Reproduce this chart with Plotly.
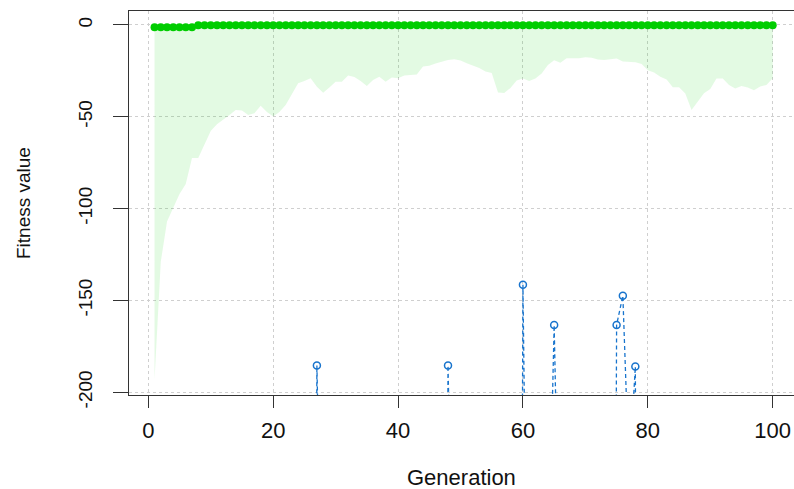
import plotly.graph_objects as go

# Generations of the genetic algorithm run
generation = list(range(1, 101))

# Best fitness per generation
best_fitness = [
    -1.2, -1.2, -1.2, -1.2, -1.2, -1.2, -1.2, -0.1, -0.1, -0.1,
    -0.1, -0.1, -0.1, -0.1, -0.1, -0.1, -0.1, -0.1, -0.1, -0.1,
    -0.1, -0.1, -0.1, -0.1, -0.1, -0.1, -0.1, -0.1, -0.1, -0.1,
    -0.1, -0.1, -0.1, -0.1, -0.1, -0.1, -0.1, -0.1, -0.1, -0.1,
    -0.1, -0.1, -0.1, -0.1, -0.1, -0.1, -0.1, -0.1, -0.1, -0.1,
    -0.1, -0.1, -0.1, -0.1, -0.1, -0.1, -0.1, -0.1, -0.1, -0.1,
    -0.1, -0.1, -0.1, -0.1, -0.1, -0.1, -0.1, -0.1, -0.1, -0.1,
    -0.1, -0.1, -0.1, -0.1, -0.1, -0.1, -0.1, -0.1, -0.1, -0.1,
    -0.1, -0.1, -0.1, -0.1, -0.1, -0.1, -0.1, -0.1, -0.1, -0.1,
    -0.1, -0.1, -0.1, -0.1, -0.1, -0.1, -0.1, -0.1, -0.1, -0.1,
]

# Median fitness per generation
median_fitness = [
    -193.3, -129.0, -107.0, -99.0, -92.0, -86.6, -72.4, -72.4, -65.0, -57.7,
    -54.0, -51.7, -49.0, -46.3, -46.5, -49.0, -48.0, -44.0, -47.4, -49.9,
    -47.4, -43.6, -37.6, -31.7, -30.5, -29.0, -33.6, -36.9, -34.0, -30.9,
    -30.9, -27.5, -28.3, -30.5, -33.2, -29.9, -28.2, -30.9, -28.6, -29.0,
    -27.5, -27.2, -27.0, -22.6, -22.2, -21.0, -19.8, -19.0, -18.7, -19.4,
    -20.9, -22.2, -23.4, -25.3, -26.1, -36.8, -37.0, -34.3, -30.2, -29.1,
    -30.5, -29.1, -26.4, -21.8, -19.2, -20.5, -18.1, -18.1, -18.1, -17.6,
    -17.9, -18.8, -19.1, -18.7, -18.2, -19.9, -20.3, -20.3, -21.2, -24.6,
    -25.9, -28.2, -29.7, -33.9, -33.9, -37.3, -46.3, -41.4, -37.2, -34.8,
    -29.1, -29.1, -32.7, -34.6, -33.2, -34.0, -35.6, -33.5, -32.7, -29.0,
]

# Mean fitness per generation (most generations fall far below the axis floor)
mean_fitness = [
    -1000, -1000, -1000, -1000, -1000, -1000, -1000, -1000, -1000, -1000,
    -1000, -1000, -1000, -1000, -1000, -1000, -1000, -1000, -1000, -1000,
    -1000, -1000, -1000, -1000, -1000, -1000, -185.4, -1000, -1000, -1000,
    -1000, -1000, -1000, -1000, -1000, -1000, -1000, -1000, -1000, -1000,
    -1000, -1000, -1000, -1000, -1000, -1000, -1000, -185.4, -1000, -1000,
    -1000, -1000, -1000, -1000, -1000, -1000, -1000, -1000, -1000, -141.4,
    -1000, -1000, -1000, -310, -163.4, -330, -1000, -1000, -1000, -1000,
    -1000, -1000, -1000, -1000, -163.4, -147.4, -245, -186.0, -1000, -1000,
    -1000, -1000, -1000, -1000, -1000, -1000, -1000, -1000, -1000, -1000,
    -1000, -1000, -1000, -1000, -1000, -1000, -1000, -1000, -1000, -1000,
]

x_ticks = [0, 20, 40, 60, 80, 100]
y_ticks = [0, -50, -100, -150, -200]

GREEN = "#00CD00"
BLUE = "#1874CD"
FILL = "rgba(0,205,0,0.11)"
AXIS = "#333333"
GRID = "#cfcfcf"

fig = go.Figure()

# Best fitness: filled points joined by a solid line
fig.add_trace(go.Scatter(
    x=generation, y=best_fitness, mode="lines+markers",
    line=dict(color=GREEN, width=1.3),
    marker=dict(color=GREEN, size=8, symbol="circle"),
    showlegend=False, hoverinfo="skip",
))

# Mean fitness: open circles joined by a dashed line
fig.add_trace(go.Scatter(
    x=generation, y=mean_fitness, mode="lines+markers",
    line=dict(color=BLUE, width=1.3, dash="4px,3px"),
    marker=dict(color=BLUE, size=7, symbol="circle-open",
                line=dict(color=BLUE, width=1.5)),
    showlegend=False, hoverinfo="skip", cliponaxis=True,
))

# Band between median and best fitness
fig.add_trace(go.Scatter(
    x=generation + generation[::-1],
    y=median_fitness + best_fitness[::-1],
    mode="lines", fill="toself", fillcolor=FILL,
    line=dict(width=0, color="rgba(0,0,0,0)"),
    showlegend=False, hoverinfo="skip",
))

fig.update_layout(
    width=794, height=489,
    margin=dict(l=129, r=0, t=11, b=94),
    paper_bgcolor="white", plot_bgcolor="white",
    font=dict(family="Liberation Sans, Arial, sans-serif", color="#111111"),
    xaxis=dict(
        range=[-3.09, 103.41], tickvals=x_ticks, ticktext=[str(v) for v in x_ticks],
        showline=True, linecolor=AXIS, linewidth=1.3, mirror=True,
        ticks="outside", ticklen=12, tickwidth=1.3, tickcolor=AXIS,
        tickfont=dict(size=22), ticklabelstandoff=3,
        showgrid=True, gridcolor=GRID, griddash="3px,3px", gridwidth=1,
        zeroline=False,
    ),
    yaxis=dict(
        range=[-201.5, 7.62], tickvals=y_ticks, ticktext=[str(v) for v in y_ticks],
        showline=True, linecolor=AXIS, linewidth=1.3, mirror=False,
        ticks="outside", ticklen=15, tickwidth=1.3, tickcolor=AXIS,
        tickfont=dict(size=19), tickangle=-90, ticklabelstandoff=13,
        showgrid=True, gridcolor=GRID, griddash="3px,3px", gridwidth=1,
        zeroline=False,
    ),
    annotations=[
        dict(text="Generation", xref="paper", yref="paper", x=0.5, y=0,
             yshift=-82, xanchor="center", yanchor="middle",
             showarrow=False, font=dict(size=22)),
        dict(text="Fitness value", xref="paper", yref="paper", x=0, y=0.5,
             xshift=-106, xanchor="center", yanchor="middle", textangle=-90,
             showarrow=False, font=dict(size=19)),
    ],
)

fig.write_html("out.html")
